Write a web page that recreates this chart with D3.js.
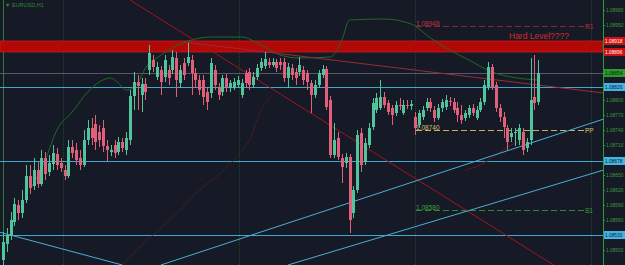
<!DOCTYPE html>
<html><head><meta charset="utf-8">
<script src="https://cdn.jsdelivr.net/npm/d3@7"></script>
<style>html,body{margin:0;padding:0;background:#161a26;}svg{display:block;}</style>
</head><body><svg id="c" width="625" height="265"></svg>
<script>
// ---- data (prices) ----
const symbol = "EURUSD,H1";
const opens  = [1.08480,1.08512,1.08528,1.08556,1.08590,1.08574,1.08600,1.08648,1.08628,1.08660,1.08632,1.08684,1.08656,1.08672,1.08692,1.08674,1.08660,1.08648,1.08706,1.08700,1.08684,1.08670,1.08720,1.08744,1.08752,1.08736,1.08744,1.08708,1.08696,1.08710,1.08696,1.08716,1.08700,1.08720,1.08808,1.08836,1.08810,1.08832,1.08860,1.08880,1.08846,1.08860,1.08846,1.08860,1.08860,1.08884,1.08834,1.08874,1.08874,1.08880,1.08854,1.08840,1.08840,1.08816,1.08814,1.08860,1.08826,1.08816,1.08844,1.08824,1.08826,1.08830,1.08810,1.08854,1.08856,1.08830,1.08846,1.08864,1.08868,1.08876,1.08870,1.08876,1.08876,1.08876,1.08844,1.08864,1.08856,1.08856,1.08860,1.08854,1.08834,1.08810,1.08830,1.08850,1.08862,1.08800,1.08690,1.08724,1.08684,1.08674,1.08686,1.08574,1.08620,1.08734,1.08676,1.08710,1.08746,1.08780,1.08784,1.08806,1.08794,1.08784,1.08774,1.08790,1.08774,1.08790,1.08788,1.08766,1.08750,1.08766,1.08784,1.08796,1.08780,1.08764,1.08784,1.08786,1.08798,1.08796,1.08784,1.08770,1.08764,1.08770,1.08784,1.08764,1.08780,1.08796,1.08826,1.08866,1.08830,1.08784,1.08766,1.08744,1.08726,1.08736,1.08720,1.08736,1.08704,1.08720,1.08806,1.08796];
const closes = [1.08516,1.08530,1.08560,1.08592,1.08574,1.08600,1.08648,1.08624,1.08660,1.08632,1.08684,1.08652,1.08674,1.08694,1.08670,1.08664,1.08648,1.08706,1.08694,1.08680,1.08670,1.08720,1.08744,1.08724,1.08716,1.08720,1.08708,1.08700,1.08700,1.08694,1.08716,1.08704,1.08724,1.08808,1.08836,1.08828,1.08832,1.08816,1.08894,1.08866,1.08866,1.08836,1.08880,1.08844,1.08886,1.08840,1.08860,1.08850,1.08886,1.08854,1.08840,1.08820,1.08806,1.08796,1.08874,1.08830,1.08810,1.08844,1.08826,1.08834,1.08836,1.08840,1.08834,1.08834,1.08830,1.08846,1.08864,1.08876,1.08882,1.08870,1.08876,1.08864,1.08870,1.08844,1.08866,1.08850,1.08844,1.08870,1.08840,1.08836,1.08810,1.08830,1.08854,1.08862,1.08786,1.08690,1.08720,1.08686,1.08666,1.08686,1.08560,1.08620,1.08730,1.08670,1.08714,1.08744,1.08794,1.08804,1.08806,1.08790,1.08776,1.08770,1.08790,1.08788,1.08790,1.08788,1.08792,1.08744,1.08774,1.08780,1.08796,1.08784,1.08764,1.08784,1.08796,1.08800,1.08796,1.08780,1.08770,1.08760,1.08774,1.08784,1.08774,1.08780,1.08796,1.08830,1.08866,1.08826,1.08784,1.08766,1.08746,1.08716,1.08734,1.08736,1.08744,1.08700,1.08716,1.08800,1.08794,1.08854];
const highs  = [1.08536,1.08544,1.08576,1.08604,1.08600,1.08620,1.08670,1.08670,1.08684,1.08676,1.08700,1.08696,1.08690,1.08710,1.08704,1.08684,1.08670,1.08720,1.08720,1.08714,1.08700,1.08740,1.08760,1.08764,1.08770,1.08750,1.08760,1.08720,1.08710,1.08720,1.08726,1.08724,1.08736,1.08820,1.08856,1.08850,1.08844,1.08844,1.08910,1.08890,1.08876,1.08868,1.08890,1.08870,1.08900,1.08896,1.08870,1.08884,1.08914,1.08890,1.08864,1.08850,1.08850,1.08824,1.08884,1.08870,1.08834,1.08850,1.08852,1.08840,1.08844,1.08848,1.08842,1.08860,1.08864,1.08856,1.08872,1.08884,1.08896,1.08884,1.08884,1.08882,1.08884,1.08884,1.08874,1.08872,1.08864,1.08886,1.08868,1.08860,1.08840,1.08840,1.08860,1.08870,1.08868,1.08808,1.08754,1.08736,1.08692,1.08694,1.08692,1.08628,1.08740,1.08744,1.08724,1.08754,1.08804,1.08814,1.08840,1.08816,1.08800,1.08790,1.08798,1.08804,1.08800,1.08800,1.08800,1.08776,1.08780,1.08788,1.08804,1.08804,1.08788,1.08792,1.08802,1.08810,1.08806,1.08804,1.08796,1.08790,1.08780,1.08790,1.08792,1.08788,1.08804,1.08840,1.08876,1.08872,1.08836,1.08792,1.08776,1.08750,1.08744,1.08744,1.08752,1.08744,1.08724,1.08884,1.08890,1.08880];
const lows   = [1.08470,1.08496,1.08520,1.08548,1.08560,1.08564,1.08594,1.08612,1.08620,1.08624,1.08628,1.08640,1.08648,1.08660,1.08660,1.08656,1.08640,1.08644,1.08684,1.08670,1.08660,1.08666,1.08710,1.08710,1.08700,1.08706,1.08696,1.08676,1.08688,1.08684,1.08690,1.08696,1.08690,1.08710,1.08780,1.08780,1.08776,1.08800,1.08850,1.08856,1.08840,1.08810,1.08836,1.08830,1.08852,1.08806,1.08824,1.08840,1.08868,1.08810,1.08824,1.08810,1.08790,1.08780,1.08804,1.08820,1.08800,1.08808,1.08816,1.08816,1.08820,1.08824,1.08804,1.08824,1.08820,1.08824,1.08840,1.08858,1.08862,1.08864,1.08866,1.08856,1.08860,1.08836,1.08824,1.08840,1.08830,1.08848,1.08830,1.08820,1.08774,1.08804,1.08824,1.08844,1.08780,1.08684,1.08684,1.08680,1.08634,1.08664,1.08534,1.08564,1.08614,1.08656,1.08670,1.08704,1.08740,1.08774,1.08780,1.08784,1.08770,1.08750,1.08768,1.08780,1.08770,1.08782,1.08780,1.08730,1.08744,1.08760,1.08778,1.08776,1.08756,1.08760,1.08776,1.08780,1.08788,1.08774,1.08756,1.08752,1.08758,1.08764,1.08768,1.08760,1.08776,1.08790,1.08820,1.08820,1.08776,1.08756,1.08724,1.08700,1.08716,1.08708,1.08710,1.08690,1.08696,1.08710,1.08780,1.08790];
// levels
const levelNames  = ["R1","PP","S1"];
const levelValues = [1.08948, 1.08740, 1.08580];
const bandTop = 1.08918, bandBottom = 1.08896;
const hLineValues = [1.08826, 1.08678, 1.08530];     // blue horizontal lines
const bidValue = 1.08854;
const axisTicks = [1.08980,1.08950,1.08920,1.08890,1.08860,1.08830,1.08800,1.08770,1.08740,1.08710,1.08680,1.08650,1.08620,1.08590,1.08560,1.08530,1.08500];
// trend lines: [barIndexStart, priceStart, barIndexEnd, priceEnd]
const trendRed = [[33, 1.09000, 143, 1.08470], [47, 1.08916, 156, 1.08814]];
const trendBlue = [[-1, 1.08536, 31, 1.08470], [41, 1.08470, 156, 1.08762], [74, 1.08470, 156, 1.08660]];
// indicator lines (bar index, price)
const upperIdx = [7, 11, 14, 18, 22, 25, 28, 30, 32, 35, 37, 40, 44, 49, 54, 62, 67, 72, 77, 85, 88, 90, 99, 106, 111, 116, 121, 127, 132, 139];
const upperVal = [1.08620,1.08680,1.08740,1.08776,1.08816,1.08836,1.08844,1.08834,1.08820,1.08834,1.08864,1.08884,1.08904,1.08920,1.08926,1.08926,1.08910,1.08890,1.08884,1.08886,1.08920,1.08960,1.08962,1.08952,1.08924,1.08900,1.08880,1.08856,1.08846,1.08840];
const lowerIdx = [31, 36, 41, 46, 51, 56, 61, 64, 67, 70];
const lowerVal = [1.08470,1.08510,1.08544,1.08580,1.08620,1.08650,1.08690,1.08720,1.08780,1.08810];
const lower2Idx = [120, 124, 128, 132, 136];
const lower2Val = [1.08660,1.08670,1.08690,1.08710,1.08720];
const hardLabel = "Hard Level????";

// ---- drawing ----
const W = 625, H = 265, plotR = 603;
const svg = d3.select("#c");
const n = opens.length;
const x = d3.scaleBand().domain(d3.range(n)).range([1, 539]).paddingInner(0.3);
const xc = i => 1 + x.step() * (i + 0.5);
const y = d3.scaleLinear().domain([1.08470, 1.09000]).range([265, 0]);
const FONT = "Liberation Sans, Arial";

svg.append("rect").attr("width", W).attr("height", H).attr("fill", "#161a26");

// vertical separators
const sepX = [63, 239, 415, 591];
svg.selectAll(".sep").data(sepX).join("line").attr("x1", d => d + 0.5).attr("x2", d => d + 0.5)
  .attr("y1", 0).attr("y2", H).attr("stroke", "#1f4a25").attr("stroke-dasharray", "1,1").attr("stroke-width", 1);
svg.append("line").attr("x1", 3.5).attr("x2", 3.5).attr("y1", 0).attr("y2", H).attr("stroke", "#2c7a33").attr("stroke-width", 1);

// red band
svg.append("rect").attr("x", 0).attr("y", y(bandTop)).attr("width", plotR)
  .attr("height", y(bandBottom) - y(bandTop)).attr("fill", "#b30808").attr("stroke", "#d01a1a").attr("stroke-width", 0.8);

// bid line
svg.append("line").attr("x1", 0).attr("x2", plotR).attr("y1", Math.round(y(bidValue)) + 0.5).attr("y2", Math.round(y(bidValue)) + 0.5)
  .attr("stroke", "#565a66").attr("stroke-width", 1);

// blue horizontal lines
svg.selectAll(".hl").data(hLineValues).join("line").attr("x1", 0).attr("x2", plotR)
  .attr("y1", d => Math.round(y(d)) + 0.5).attr("y2", d => Math.round(y(d)) + 0.5)
  .attr("stroke", "#3fa7d0").attr("stroke-width", 1);

// pivot levels
const lvlColors = ["#8a2630", "#c9b060", "#2f8a2f"];
const lvlText = ["#c23040", "#d8c070", "#3aa03a"];
levelValues.forEach((v, k) => {
  const yy = Math.round(y(v)) + 0.5;
  svg.append("line").attr("x1", 416).attr("x2", 588).attr("y1", yy).attr("y2", yy)
    .attr("stroke", lvlColors[k]).attr("stroke-dasharray", "6,3").attr("stroke-width", 1);
  svg.append("text").attr("x", 416).attr("y", yy - 1).text(v.toFixed(5))
    .attr("font-family", FONT).attr("font-size", 6.5).attr("fill", lvlText[k]);
  svg.append("text").attr("x", 585).attr("y", yy + 2.5).text(levelNames[k])
    .attr("font-family", FONT).attr("font-size", 6.5).attr("fill", lvlText[k]);
});

// indicator curves
const line = d3.line().x(d => xc(d[0])).y(d => y(d[1])).curve(d3.curveMonotoneX);
svg.append("path").attr("d", line(upperIdx.map((d, k) => [d, upperVal[k]]))).attr("fill", "none")
  .attr("stroke", "#1e6a24").attr("stroke-width", 1);
svg.append("path").attr("d", line(lowerIdx.map((d, k) => [d, lowerVal[k]]))).attr("fill", "none")
  .attr("stroke", "#5a1a1e").attr("stroke-width", 1).attr("stroke-dasharray", "2,1");
svg.append("path").attr("d", line(lower2Idx.map((d, k) => [d, lower2Val[k]]))).attr("fill", "none")
  .attr("stroke", "#5a1a1e").attr("stroke-width", 1);

// trend lines
trendRed.forEach((t, k) => {
  svg.append("line").attr("x1", xc(t[0])).attr("y1", y(t[1])).attr("x2", xc(t[2])).attr("y2", y(t[3]))
    .attr("stroke", k === 0 ? "#a3141c" : "#9a2a3a").attr("stroke-width", 1);
});
trendBlue.forEach(t => {
  svg.append("line").attr("x1", xc(t[0])).attr("y1", y(t[1])).attr("x2", xc(t[2])).attr("y2", y(t[3]))
    .attr("stroke", "#4aaed8").attr("stroke-width", 1);
});

// candles
const up = "#52c49c", dn = "#e0607a";
const g = svg.append("g");
d3.range(n).forEach(i => {
  const isUp = closes[i] >= opens[i];
  const col = isUp ? up : dn;
  const cx = Math.round(xc(i)) + 0.5;
  g.append("line").attr("x1", cx).attr("x2", cx).attr("y1", y(highs[i])).attr("y2", y(lows[i]))
    .attr("stroke", col).attr("stroke-width", 1);
  const top = y(Math.max(opens[i], closes[i])), bot = y(Math.min(opens[i], closes[i]));
  g.append("rect").attr("x", cx - 1.5).attr("width", 3).attr("y", top).attr("height", Math.max(1, bot - top)).attr("fill", col);
});

// hard level label
svg.append("text").attr("x", 509).attr("y", 39).text(hardLabel)
  .attr("font-family", FONT).attr("font-size", 8.5).attr("fill", "#d42a2a");

// symbol label
svg.append("text").attr("x", 5).attr("y", 7).text("\u25BC " + symbol)
  .attr("font-family", FONT).attr("font-size", 5.5).attr("fill", "#2e8a34");

// right axis
svg.append("rect").attr("x", plotR).attr("y", 0).attr("width", W - plotR).attr("height", H).attr("fill", "#161a26");
svg.append("line").attr("x1", plotR + 0.5).attr("x2", plotR + 0.5).attr("y1", 0).attr("y2", H).attr("stroke", "#2f9a35").attr("stroke-width", 1);

const boxes = [[bandTop, "#d01010", "#ffffff"], [bandBottom, "#d01010", "#ffffff"], [bidValue, "#2e9a2e", "#0a1a0a"]]
  .concat(hLineValues.map(v => [v, "#45b4e4", "#0a1a2a"]));
// ticks hidden under value boxes (as the terminal draws them)
const shownTicks = axisTicks.filter(t => boxes.every(b => Math.abs(y(t) - y(b[0])) > 8));
const axis = d3.axisRight(y).tickValues(shownTicks).tickSize(2).tickFormat(d3.format(".5f"));
const ag = svg.append("g").attr("transform", `translate(${plotR},0)`).call(axis);
ag.select(".domain").remove();
ag.selectAll("line").attr("stroke", "#2f9a35");
ag.selectAll("text").attr("fill", "#3c9a3c").attr("font-size", 4.8).attr("font-family", FONT).attr("x", 3);

boxes.forEach(b => {
  const yy = y(b[0]);
  svg.append("rect").attr("x", plotR + 1).attr("y", yy - 4).attr("width", W - plotR - 1).attr("height", 8).attr("fill", b[1]);
  svg.append("text").attr("x", plotR + 2).attr("y", yy + 2).text(b[0].toFixed(5))
    .attr("font-family", FONT).attr("font-size", 4.8).attr("fill", b[2]);
});
</script></body></html>
